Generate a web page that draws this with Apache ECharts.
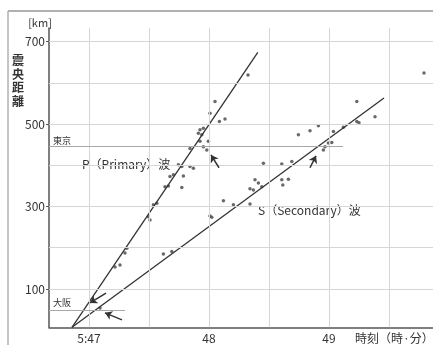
<!DOCTYPE html>
<html><head><meta charset="utf-8">
<script src="https://cdn.jsdelivr.net/npm/echarts@6/dist/echarts.min.js"></script>
<style>html,body{margin:0;padding:0;background:#fff}#c{width:433px;height:345px}</style>
</head><body><div id="c"></div>
<script>
// time in seconds after 5:47:00, distance in km
const pTime = [79.5,63,60.5,65.2,68,55.5,57.2,54.7,56.4,55.5,59.7,57.2,58.9,50.5,44.7,46.4,50.5,52.2,47.2,40.5,42.2,38,39.7,46.4,32.2,33.9,29.7,30.5,18.9,18,15.5,13];
const pDist = [619,555,526,506,512,486,490,478,474,458,458,445,437,441,401,397,397,393,374,373,377,348,350,346,304,308,275,267,199,187,158,153];
const sTime = [133.9,143,133.9,135,122.2,127.2,114.7,110.5,104.7,119.7,121.4,118,117.2,87.2,96.4,101.4,96.4,99.7,96.9,83,84.7,86.4,80.5,82.2,67.2,72.2,80.5,61.4,60.5,41.4,37.2,167.5,5.5];
const sDist = [555,518,506,503,482,492,496,484,474,454,455,445,437,405,403,409,365,366,352,365,357,348,343,340,314,304,306,274,277,191,185,624,54];
const pLineTime = [-8.5, 84.4], pLineDist = [7, 674];
const sLineTime = [-8.5, 147.5], sLineDist = [7, 563];
const xTickValues = [0, 60, 120];
const xTickLabels = ['5:47', '48', '49'];
const yTickValues = [100, 300, 500, 700];
const gridX = [0, 30, 60, 90, 120, 150];
const gridY = [100, 200, 300, 400, 500, 600, 700];
const tokyoDist = 447, osakaDist = 49;
const tokyoEnd = 127, osakaEnd = 18;
// arrows: [tailTime, tailDist, headTime, headDist]
const arrows = [[8.5,90,0.5,66],[16.5,25,8,42],[65,394,61,425],[110.5,394,113.5,423]];

const zip = (a,b) => a.map((v,i)=>[v,b[i]]);
const FONT = '"Noto Sans CJK JP", "Liberation Sans", sans-serif';
const chart = echarts.init(document.getElementById('c'));
chart.setOption({
  animation:false,
  grid:{left:49, top:28, right:0, bottom:17.7, containLabel:false},
  xAxis:{type:'value', min:-20, max:172,
    axisLine:{onZero:false, lineStyle:{color:'#555', width:1.5}},
    splitLine:{show:false},
    axisTick:{show:true, inside:true, length:4, customValues:gridX, lineStyle:{color:'#555'}},
    axisLabel:{customValues:xTickValues, margin:5, fontSize:12, color:'#333', fontFamily:FONT,
      formatter:v=>xTickLabels[xTickValues.indexOf(v)] ?? ''}},
  yAxis:{type:'value', min:7, max:733,
    axisLine:{show:true, onZero:false, lineStyle:{color:'#555', width:1.5}},
    splitLine:{show:false},
    axisTick:{show:true, length:3, customValues:yTickValues, lineStyle:{color:'#555'}},
    axisLabel:{customValues:yTickValues, margin:4, fontSize:12, color:'#333', fontFamily:FONT}},
  series:[
    {type:'line', data:[], silent:true,
      markLine:{silent:true, symbol:'none', label:{show:false}, animation:false,
        lineStyle:{color:'#d6d6d6', width:1, type:'solid'},
        data:[...gridX.map(v=>({xAxis:v})), ...gridY.map(v=>({yAxis:v}))]}},
    {type:'line', data:[], silent:true,
      markLine:{silent:true, symbol:'none', label:{show:false}, animation:false,
        lineStyle:{color:'#a8a8a8', width:1, type:'solid'},
        data:[[{coord:[-20,tokyoDist]},{coord:[tokyoEnd,tokyoDist]}],
              [{coord:[-20,osakaDist]},{coord:[osakaEnd,osakaDist]}]]}},
    {type:'line', data:zip(pLineTime,pLineDist), symbol:'none', lineStyle:{color:'#333', width:1.3}},
    {type:'line', data:zip(sLineTime,sLineDist), symbol:'none', lineStyle:{color:'#333', width:1.3}},
    {type:'scatter', data:zip(pTime,pDist), symbolSize:3.5, itemStyle:{color:'#444'}},
    {type:'scatter', data:zip(sTime,sDist), symbolSize:3.5, itemStyle:{color:'#444'},
      markLine:{silent:true, symbol:['none','arrow'], symbolSize:7, label:{show:false}, animation:false,
        lineStyle:{color:'#333', width:1.5, type:'solid'},
        data:arrows.map(a=>[{coord:[a[0],a[1]]},{coord:[a[2],a[3]]}])}}
  ],
  graphic:[
    {type:'line', shape:{x1:8,y1:11,x2:433,y2:11}, style:{stroke:'#b0b0b0', lineWidth:2}},
    {type:'line', shape:{x1:8,y1:11,x2:8,y2:345}, style:{stroke:'#b0b0b0', lineWidth:1.5}},
    {type:'text', style:{text:'[km]', x:40, y:23, textAlign:'center', textVerticalAlign:'middle', font:'11px '+FONT, fill:'#333'}},
    {type:'text', style:{text:'震\n央\n距\n離', x:18, y:54, textAlign:'center', lineHeight:13.5, font:'bold 12px '+FONT, fill:'#333'}},
    {type:'text', style:{text:'東京', x:53, y:141, textVerticalAlign:'middle', font:'9px '+FONT, fill:'#333'}},
    {type:'text', style:{text:'大阪', x:53, y:303, textVerticalAlign:'middle', font:'9px '+FONT, fill:'#333'}},
    {type:'text', style:{text:'P（Primary）波', x:82, y:164, textVerticalAlign:'middle', font:'12px '+FONT, fill:'#333'}},
    {type:'text', style:{text:'S（Secondary）波', x:258, y:210, textVerticalAlign:'middle', font:'12px '+FONT, fill:'#333'}},
    {type:'text', style:{text:'時刻（時·分）', x:355, y:338, textVerticalAlign:'middle', font:'12px '+FONT, fill:'#333'}}
  ]
});
</script></body></html>
